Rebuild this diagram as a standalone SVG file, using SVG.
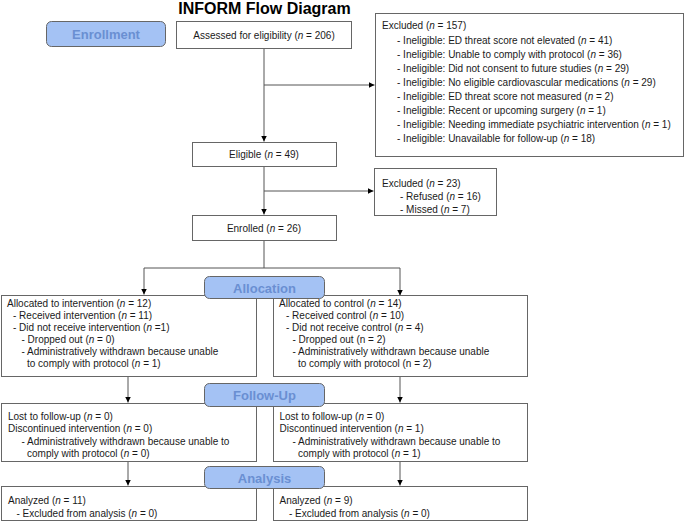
<svg xmlns="http://www.w3.org/2000/svg" width="685" height="521" viewBox="0 0 685 521">
<style>
.t{font-family:"Liberation Sans",Arial,sans-serif;font-size:10px;fill:#1a1a1a}
.c{text-anchor:middle}
.box{fill:#fff;stroke:#666;stroke-width:1}
.ph{fill:#a4c2f4;stroke:#666;stroke-width:1}
.pt{font-family:"Liberation Sans",Arial,sans-serif;font-size:13px;font-weight:bold;fill:#6a8fd2;text-anchor:middle}
.ln{fill:none;stroke:#555;stroke-width:1}
.title{font-family:"Liberation Sans",Arial,sans-serif;font-size:16px;font-weight:bold;fill:#000;text-anchor:middle}
.i{font-style:italic}
</style>
<defs>
<marker id="a" markerUnits="userSpaceOnUse" markerWidth="7" markerHeight="7" refX="6" refY="3" orient="auto">
<path d="M0,0 L6,3 L0,6 z" fill="#000"/>
</marker>
</defs>
<text class="title" x="264.5" y="14">INFORM Flow Diagram</text>
<g id="connectors">
<line class="ln" x1="264" y1="49" x2="264" y2="141.5" marker-end="url(#a)"/>
<line class="ln" x1="264" y1="85" x2="374.5" y2="85" marker-end="url(#a)"/>
<line class="ln" x1="264" y1="167" x2="264" y2="214.5" marker-end="url(#a)"/>
<line class="ln" x1="264" y1="191" x2="373.5" y2="191" marker-end="url(#a)"/>
<polyline class="ln" points="264,241 264,268"/>
<polyline class="ln" points="144,268 400,268 400,295.5" marker-end="url(#a)"/>
<line class="ln" x1="144" y1="268" x2="144" y2="294.5" marker-end="url(#a)"/>
<line class="ln" x1="128" y1="377" x2="128" y2="402.5" marker-end="url(#a)"/>
<line class="ln" x1="400" y1="377" x2="400" y2="402.5" marker-end="url(#a)"/>
<line class="ln" x1="128" y1="462" x2="128" y2="485.5" marker-end="url(#a)"/>
<line class="ln" x1="400" y1="462" x2="400" y2="485.5" marker-end="url(#a)"/>
</g>
<g id="assessed">
<rect class="box" x="176.5" y="21.5" width="175" height="27"/>
<text class="t c" x="264" y="38.5">Assessed for eligibility (<tspan class="i">n</tspan> = 206)</text>
</g>
<g id="excluded1">
<rect class="box" x="375.5" y="13.5" width="308" height="143"/>
<text class="t" x="382" y="29">Excluded (<tspan class="i">n</tspan> = 157)</text>
<text class="t" x="397" y="44">- Ineligible: ED threat score not elevated (<tspan class="i">n</tspan> = 41)</text>
<text class="t" x="397" y="58">- Ineligible: Unable to comply with protocol (<tspan class="i">n</tspan> = 36)</text>
<text class="t" x="397" y="72">- Ineligible: Did not consent to future studies (<tspan class="i">n</tspan> = 29)</text>
<text class="t" x="397" y="86">- Ineligible: No eligible cardiovascular medications (<tspan class="i">n</tspan> = 29)</text>
<text class="t" x="397" y="100">- Ineligible: ED threat score not measured (<tspan class="i">n</tspan> = 2)</text>
<text class="t" x="397" y="114">- Ineligible: Recent or upcoming surgery (<tspan class="i">n</tspan> = 1)</text>
<text class="t" x="397" y="128">- Ineligible: Needing immediate psychiatric intervention (<tspan class="i">n</tspan> = 1)</text>
<text class="t" x="397" y="142">- Ineligible: Unavailable for follow-up (<tspan class="i">n</tspan> = 18)</text>
</g>
<g id="eligible">
<rect class="box" x="192.5" y="142.5" width="144" height="24"/>
<text class="t c" x="264" y="158">Eligible (<tspan class="i">n</tspan> = 49)</text>
</g>
<g id="excluded2">
<rect class="box" x="374.5" y="168.5" width="122" height="47"/>
<text class="t" x="382" y="186.5">Excluded (<tspan class="i">n</tspan> = 23)</text>
<text class="t" x="400" y="199.5">- Refused (<tspan class="i">n</tspan> = 16)</text>
<text class="t" x="400" y="212.5">- Missed (<tspan class="i">n</tspan> = 7)</text>
</g>
<g id="enrolled">
<rect class="box" x="192.5" y="215.5" width="144" height="25"/>
<text class="t c" x="264" y="231.5">Enrolled (<tspan class="i">n</tspan> = 26)</text>
</g>
<g id="alloc-intervention">
<rect class="box" x="1.5" y="295.5" width="255" height="81"/>
<text class="t" x="7" y="307">Allocated to intervention (<tspan class="i">n</tspan> = 12)</text>
<text class="t" x="13" y="319">- Received intervention (<tspan class="i">n</tspan> = 11)</text>
<text class="t" x="13" y="331">- Did not receive intervention (<tspan class="i">n</tspan> =1)</text>
<text class="t" x="21.5" y="343">- Dropped out (<tspan class="i">n</tspan> = 0)</text>
<text class="t" x="21.5" y="355">- Administratively withdrawn because unable</text>
<text class="t" x="27" y="367">to comply with protocol (<tspan class="i">n</tspan> = 1)</text>
</g>
<g id="alloc-control">
<rect class="box" x="273.5" y="295.5" width="254" height="81"/>
<text class="t" x="279" y="307">Allocated to control (<tspan class="i">n</tspan> = 14)</text>
<text class="t" x="286" y="319">- Received control (<tspan class="i">n</tspan> = 10)</text>
<text class="t" x="286" y="331">- Did not receive control (<tspan class="i">n</tspan> = 4)</text>
<text class="t" x="292.5" y="343">- Dropped out (n = 2)</text>
<text class="t" x="292.5" y="355">- Administratively withdrawn because unable</text>
<text class="t" x="298" y="367">to comply with protocol (n = 2)</text>
</g>
<g id="follow-intervention">
<rect class="box" x="1.5" y="403.5" width="255" height="58"/>
<text class="t" x="8" y="420">Lost to follow-up (<tspan class="i">n</tspan> = 0)</text>
<text class="t" x="8" y="432.3">Discontinued intervention (<tspan class="i">n</tspan> = 0)</text>
<text class="t" x="21.5" y="444.6">- Administratively withdrawn because unable to</text>
<text class="t" x="27" y="457">comply with protocol (<tspan class="i">n</tspan> = 0)</text>
</g>
<g id="follow-control">
<rect class="box" x="273.5" y="403.5" width="254" height="58"/>
<text class="t" x="279.5" y="420">Lost to follow-up (<tspan class="i">n</tspan> = 0)</text>
<text class="t" x="279.5" y="432.3">Discontinued intervention (<tspan class="i">n</tspan> = 1)</text>
<text class="t" x="292.5" y="444.6">- Administratively withdrawn because unable to</text>
<text class="t" x="298" y="457">comply with protocol (<tspan class="i">n</tspan> = 1)</text>
</g>
<g id="analysis-intervention">
<rect class="box" x="1.5" y="486.5" width="255" height="34"/>
<text class="t" x="8" y="504">Analyzed (<tspan class="i">n</tspan> = 11)</text>
<text class="t" x="16.5" y="517">- Excluded from analysis (<tspan class="i">n</tspan> = 0)</text>
</g>
<g id="analysis-control">
<rect class="box" x="273.5" y="486.5" width="254" height="34"/>
<text class="t" x="279.5" y="504">Analyzed (<tspan class="i">n</tspan> = 9)</text>
<text class="t" x="289" y="517">- Excluded from analysis (<tspan class="i">n</tspan> = 0)</text>
</g>
<g id="phase-enrollment">
<rect class="ph" x="46.5" y="21.5" width="119" height="25" rx="5"/>
<text class="pt" x="106" y="39">Enrollment</text>
</g>
<g id="phase-allocation">
<rect class="ph" x="204.5" y="276.5" width="120" height="22" rx="5"/>
<text class="pt" x="264.5" y="292.5">Allocation</text>
</g>
<g id="phase-followup">
<rect class="ph" x="204.5" y="383.5" width="120" height="23" rx="5"/>
<text class="pt" x="264.5" y="400">Follow-Up</text>
</g>
<g id="phase-analysis">
<rect class="ph" x="204.5" y="466.5" width="120" height="22" rx="5"/>
<text class="pt" x="264.5" y="482.5">Analysis</text>
</g>
</svg>
